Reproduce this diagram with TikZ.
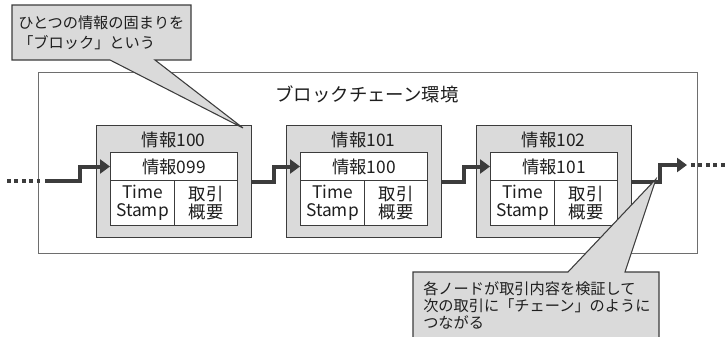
\documentclass[tikz,border=0pt]{standalone}
\usepackage{fontspec}
\newfontfamily\jp{Noto Sans CJK JP}
\usetikzlibrary{arrows.meta}
\definecolor{gfill}{RGB}{218,218,218}
\definecolor{ink}{RGB}{60,60,60}
\definecolor{envline}{RGB}{110,110,110}
\definecolor{txt}{RGB}{30,30,30}
\begin{document}
\begin{tikzpicture}[x=0.75pt,y=-0.75pt,
  every node/.style={font=\jp, text=txt},
  blockbox/.style={draw=ink, fill=gfill, line width=0.9pt, anchor=north west,
    minimum width=116.25pt, minimum height=84pt, inner sep=0pt},
  cell/.style={draw=ink, fill=white, line width=0.75pt, anchor=north west, inner sep=0pt,
    align=center, font=\jp\fontsize{13pt}{13.6pt}\selectfont},
  topcell/.style={cell, minimum width=95.25pt, minimum height=21pt},
  lcell/.style={cell, minimum width=48pt, minimum height=33.75pt},
  rcell/.style={cell, minimum width=47.25pt, minimum height=33.75pt},
  btitle/.style={font=\jp\fontsize{13pt}{13.6pt}\selectfont, inner sep=0pt},
  chain/.style={draw=ink, line width=3pt, -{Triangle[length=7.5pt,width=10.5pt]}},
  dotline/.style={draw=ink, line width=3pt, dash pattern=on 3pt off 2.6pt},
  callout/.style={draw=ink, fill=gfill, line width=0.8pt, line join=miter},
  calltext/.style={align=left, anchor=west, inner sep=0pt}
]
\useasboundingbox (0,0) rectangle (725,336);
\clip (0,0) rectangle (725,336);
% environment
\node[draw=envline, fill=white, line width=0.8pt, anchor=north west, inner sep=0pt,
  minimum width=494.25pt, minimum height=135.75pt] (env) at (38,72) {};
\node[font=\jp\fontsize{13.8pt}{15pt}\selectfont, inner sep=0pt] (envtitle) at (367,94) {ブロックチェーン環境};
% blocks
\foreach \i/\n/\p [count=\k from 0] in {1/100/099,2/101/100,3/102/101}{
  \pgfmathsetmacro{\xo}{96+190*\k}
  \node[blockbox] (b\i) at (\xo,125) {};
  \node[btitle] (h\i) at (\xo+77.5,140) {情報\n};
  \node[topcell] (t\i) at (\xo+14,152) {情報\p};
  \node[lcell] (l\i) at (\xo+14,180) {Time\\Stamp};
  \node[rcell] (r\i) at (\xo+78,180) {取引\\概要};
}
% connectors
\coordinate (d0) at (7,181);
\coordinate (d1) at (40,181);
\coordinate (s0) at (45,181);
\draw[dotline] (d0) -- (d1);
\draw[chain] (s0) -- ++(35,0) |- (t1.west);
\draw[chain] (b1.east) -- ++(22,0) |- (t2.west);
\draw[chain] (b2.east) -- ++(22,0) |- (t3.west);
\coordinate (e1) at (687,165);
\coordinate (e2) at (691,165);
\coordinate (e3) at (726,165);
\draw[chain] (b3.east) -- ++(28,0) |- (e1);
\draw[dotline] (e2) -- (e3);
% callout 1
\coordinate (tip1) at (243,128);
\draw[callout] (12,5) -- (191,5) -- (191,60) -- (155,60) -- (tip1) -- (110,60) -- (12,60) -- cycle;
\node[calltext, font=\jp\fontsize{11.4pt}{15pt}\selectfont] (c1) at (18,33) {ひとつの情報の固まりを\\「ブロック」という};
% callout 2
\coordinate (tip2) at (656,179);
\draw[callout] (413,272) -- (568,272) -- (tip2) -- (625,272) -- (659,272) -- (659,345) -- (413,345) -- cycle;
\node[calltext, font=\jp\fontsize{11.4pt}{12.75pt}\selectfont] (c2) at (423,305) {各ノードが取引内容を検証して\\次の取引に「チェーン」のように\\つながる};
\end{tikzpicture}
\end{document}
